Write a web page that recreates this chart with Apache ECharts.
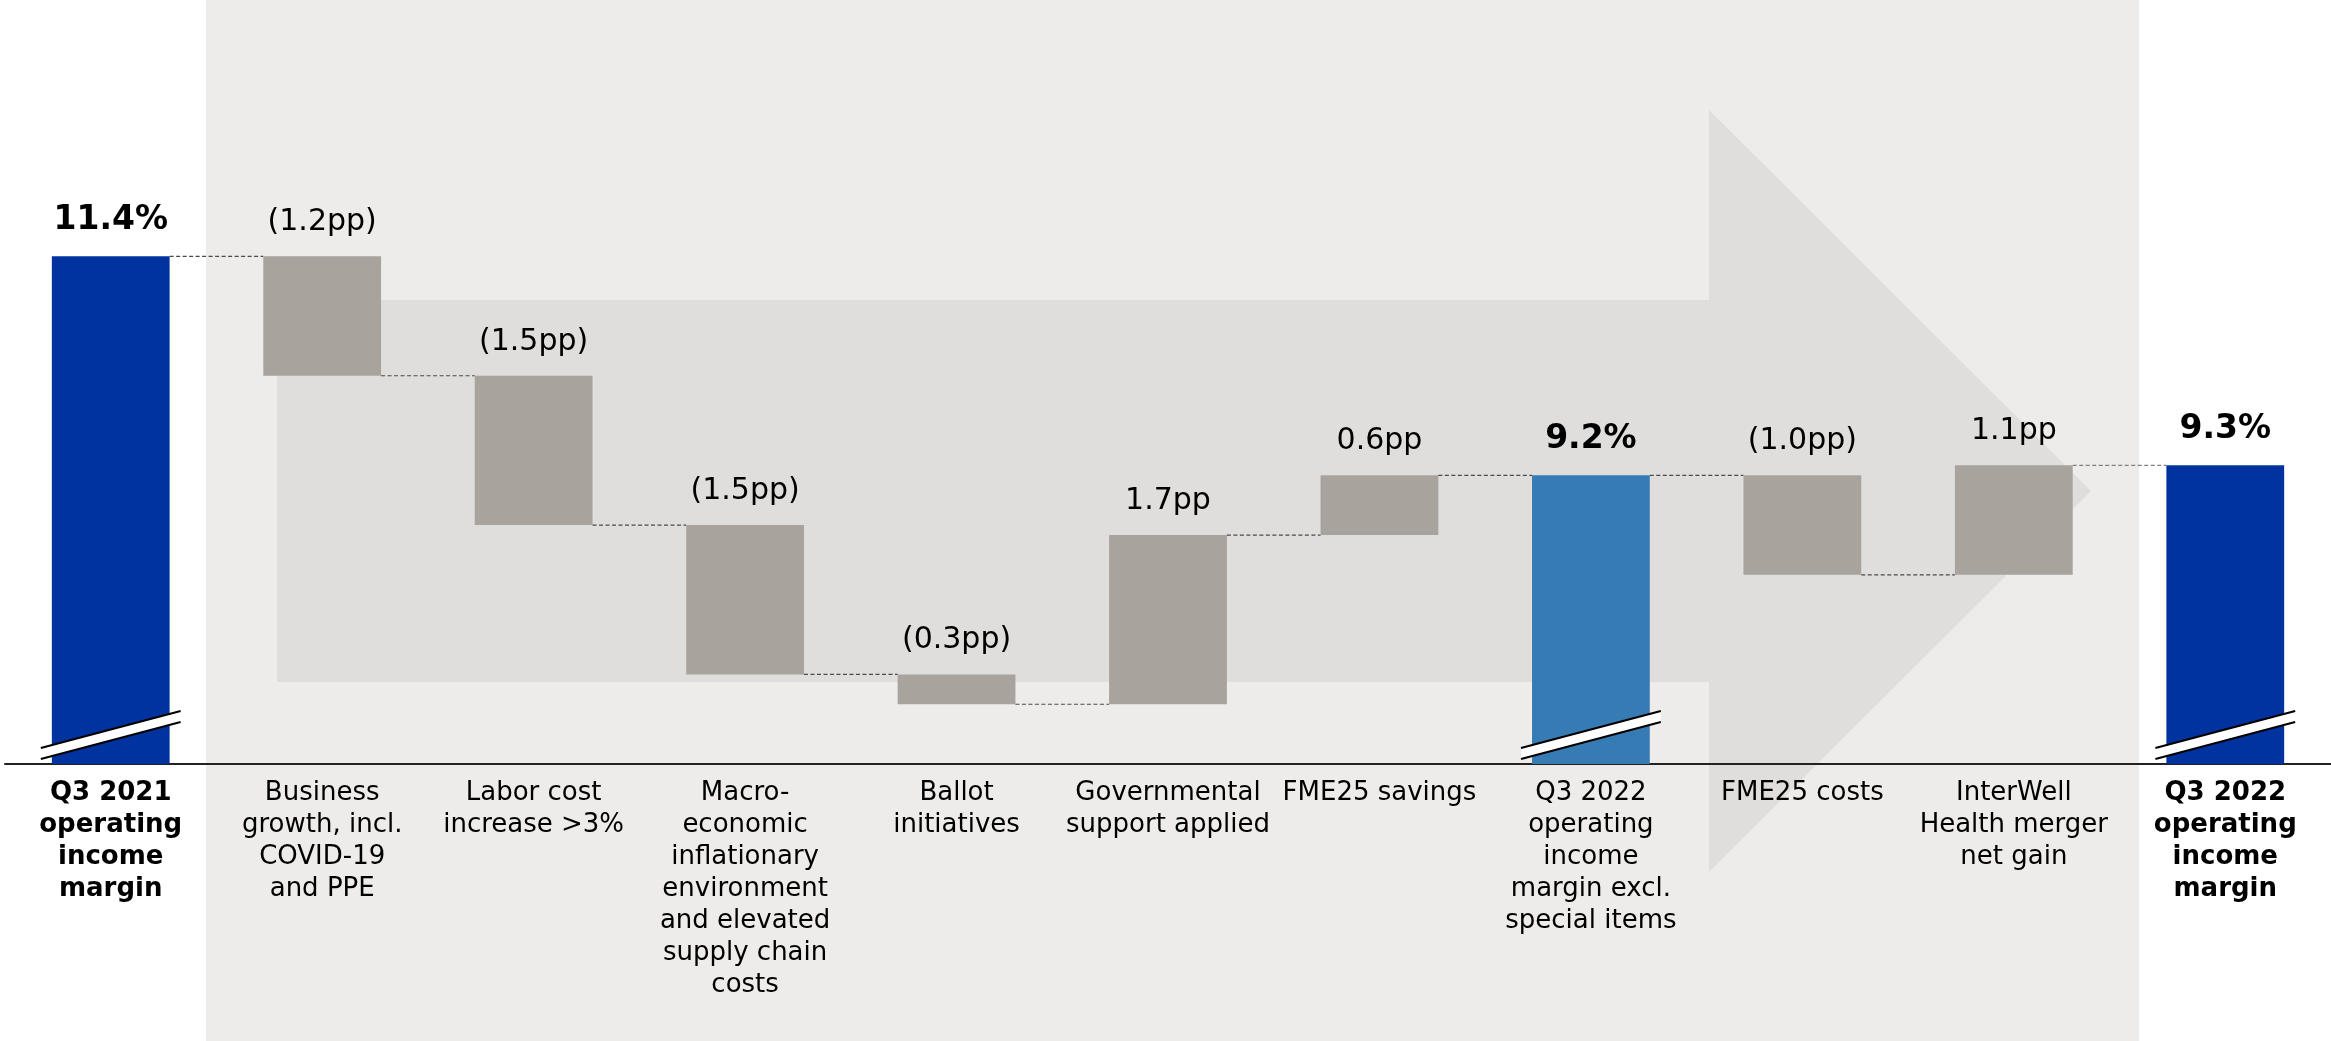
<!DOCTYPE html>
<html>
<head>
<meta charset="utf-8">
<script src="https://cdn.jsdelivr.net/npm/echarts@6/dist/echarts.min.js"></script>
<style>
html,body{margin:0;padding:0;background:#fff;}
#chart{width:2331px;height:1041px;}
</style>
</head>
<body>
<div id="chart"></div>
<script>
// ---- data ----
const categories = [
  "Q3 2021\noperating\nincome\nmargin",
  "Business\ngrowth, incl.\nCOVID-19\nand PPE",
  "Labor cost\nincrease >3%",
  "Macro-\neconomic\ninflationary\nenvironment\nand elevated\nsupply chain\ncosts",
  "Ballot\ninitiatives",
  "Governmental\nsupport applied",
  "FME25 savings",
  "Q3 2022\noperating\nincome\nmargin excl.\nspecial items",
  "FME25 costs",
  "InterWell\nHealth merger\nnet gain",
  "Q3 2022\noperating\nincome\nmargin"
];
const barValues = [11.4, -1.2, -1.5, -1.5, -0.3, 1.7, 0.6, 9.2, -1.0, 1.1, 9.3];
const barTypes  = ["total","delta","delta","delta","delta","delta","delta","subtotal","delta","delta","total"];
const valueLabels = ["11.4%","(1.2pp)","(1.5pp)","(1.5pp)","(0.3pp)","1.7pp","0.6pp","9.2%","(1.0pp)","1.1pp","9.3%"];
const boldCategories = [0, 10];
const axisMin = 6.3, axisMax = 13;

// ---- build waterfall rows [index, low, high, connectorLevel] ----
const rows = [];
let running = 0;
barValues.forEach((v, i) => {
  let low, high;
  if (barTypes[i] === "delta") {
    const next = Math.round((running + v) * 10) / 10;
    low = Math.min(running, next); high = Math.max(running, next);
    running = next;
  } else {
    low = axisMin; high = v; running = v;
  }
  rows.push([i, low, high, running]);
});

const colors = { total: "#0033A0", subtotal: "#377BB5", delta: "#A8A39C" };
const FONT = "'DejaVu Sans', Verdana, sans-serif";

function renderItem(params, api) {
  const i = api.value(0), low = api.value(1), high = api.value(2), level = api.value(3);
  const kind = barTypes[i];
  const bw = api.size([1, 0])[0] * 0.557;
  const pTop = api.coord([i, high]);
  const pBot = api.coord([i, low]);
  const children = [];
  children.push({
    type: "rect",
    shape: { x: pTop[0] - bw / 2, y: pTop[1], width: bw, height: pBot[1] - pTop[1] },
    style: { fill: colors[kind] }
  });
  const bold = kind !== "delta";
  children.push({
    type: "text",
    style: {
      text: valueLabels[i], x: pTop[0], y: pTop[1] - 19,
      align: "center", verticalAlign: "bottom",
      fontSize: bold ? 33 : 30, fontWeight: bold ? "bold" : "normal",
      fontFamily: FONT, fill: "#000"
    }
  });
  if (i < rows.length - 1) {
    const pL = api.coord([i, level]);
    const pN = api.coord([i + 1, level]);
    children.push({
      type: "line",
      shape: { x1: pL[0] + bw / 2, y1: pL[1], x2: pN[0] - bw / 2, y2: pL[1] },
      style: { stroke: i === rows.length - 2 ? "#808080" : "#4a4a4a", lineWidth: 1.2, lineDash: [4, 2.5] }
    });
  }
  if (kind !== "delta") {
    const ay = pBot[1];
    const xl = pTop[0] - bw / 2 - 11, xr = pTop[0] + bw / 2 + 11;
    children.push({
      type: "polygon",
      shape: { points: [[xl, ay - 5], [xr, ay - 42], [xr, ay - 53], [xl, ay - 16]] },
      style: { fill: "#fff" }
    });
    children.push({ type: "line", shape: { x1: xl, y1: ay - 5, x2: xr, y2: ay - 42 }, style: { stroke: "#000", lineWidth: 2 } });
    children.push({ type: "line", shape: { x1: xl, y1: ay - 16, x2: xr, y2: ay - 53 }, style: { stroke: "#000", lineWidth: 2 } });
  }
  return { type: "group", children };
}

const chart = echarts.init(document.getElementById("chart"), null, { renderer: "canvas" });
chart.setOption({
  backgroundColor: "#ffffff",
  animation: false,
  graphic: [
    { type: "rect", z: -20, silent: true, shape: { x: 206, y: 0, width: 1933, height: 1041 }, style: { fill: "#EDECEA" } },
    { type: "polygon", z: -19, silent: true,
      shape: { points: [[277, 300], [1709, 300], [1709, 110], [2091, 491], [1709, 872], [1709, 682], [277, 682]] },
      style: { fill: "#DFDEDC" } }
  ],
  grid: { left: 5, width: 2328, top: 97, bottom: 277, containLabel: false },
  xAxis: {
    type: "category",
    data: categories,
    axisTick: { show: false },
    axisLine: { show: true, lineStyle: { color: "#222", width: 2 } },
    axisLabel: {
      interval: 0, margin: 13, hideOverlap: false,
      lineHeight: 32,
      formatter: (val, idx) => {
        const tag = boldCategories.includes(idx) ? "b" : "r";
        return val.split("\n").map(l => "{" + tag + "|" + l + "}").join("\n");
      },
      rich: {
        b: { fontFamily: FONT, fontSize: 26, fontWeight: "bold", color: "#000", lineHeight: 32, align: "center" },
        r: { fontFamily: FONT, fontSize: 26, fontWeight: "normal", color: "#000", lineHeight: 32, align: "center" }
      }
    }
  },
  yAxis: { type: "value", min: axisMin, max: axisMax, show: false, splitLine: { show: false } },
  series: [{
    type: "custom",
    renderItem: renderItem,
    encode: { x: 0, y: [1, 2] },
    data: rows,
    clip: false
  }]
});
</script>
</body>
</html>
